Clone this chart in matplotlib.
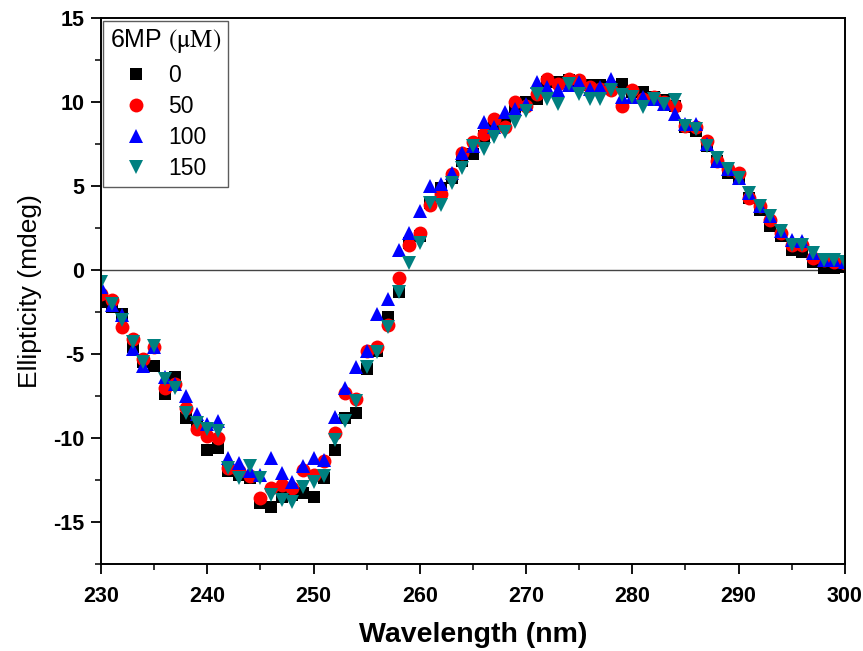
import matplotlib

matplotlib.use("Agg")
import matplotlib.pyplot as plt  # noqa: E402
from matplotlib.ticker import MultipleLocator  # noqa: E402

plt.rcParams["font.family"] = ["Liberation Sans", "DejaVu Sans"]
plt.rcParams["mathtext.fontset"] = "stix"
plt.rcParams["axes.unicode_minus"] = False

wavelength = list(range(230, 301))

cd_0 = [
    -1.9, -2.2, -2.6, -4.6, -5.5, -5.7, -7.4, -6.4, -8.8, -9.3,
    -10.7, -10.6, -12.0, -12.2, -12.4, -13.9, -14.1, -13.5, -13.4, -13.3,
    -13.5, -12.4, -10.7, -8.8, -8.5, -5.9, -4.8, -2.8, -1.3, 1.6,
    2.0, 4.0, 4.9, 5.5, 6.5, 6.9, 8.0, 8.6, 8.8, 9.7,
    10.0, 10.2, 11.2, 11.2, 11.3, 11.2, 11.0, 11.0, 10.9, 11.1,
    10.6, 10.6, 10.3, 10.1, 9.8, 8.5, 8.3, 7.4, 6.5, 5.8,
    5.5, 4.3, 3.6, 2.6, 2.0, 1.2, 1.1, 0.5, 0.1, 0.1, 0.2,
]
cd_50 = [
    -1.4, -1.8, -3.4, -4.1, -5.3, -4.6, -7.0, -6.8, -8.2, -9.5,
    -9.9, -10.0, -11.8, -12.0, -12.3, -13.6, -13.0, -12.8, -13.0, -11.9,
    -12.2, -11.4, -9.7, -7.3, -7.7, -4.8, -4.6, -3.3, -0.5, 1.5,
    2.2, 3.9, 4.5, 5.7, 7.0, 7.6, 8.1, 9.0, 8.5, 10.0,
    9.8, 10.5, 11.4, 11.1, 11.4, 11.3, 10.9, 10.8, 10.7, 9.8,
    10.7, 10.2, 10.3, 10.0, 9.8, 8.6, 8.5, 7.7, 6.5, 6.0,
    5.8, 4.3, 3.8, 3.0, 2.2, 1.5, 1.5, 0.7, 0.6, 0.5, 0.4,
]
cd_100 = [
    -1.0, -2.1, -2.7, -4.7, -5.7, -4.6, -6.4, -6.8, -7.5, -8.6,
    -9.2, -9.0, -11.2, -11.5, -12.0, -12.2, -11.2, -12.1, -12.6, -11.7,
    -11.2, -11.3, -8.75, -7.0, -5.8, -4.8, -2.6, -1.7, 1.2, 2.2,
    3.5, 5.0, 5.1, 5.8, 7.0, 7.4, 8.8, 8.5, 9.4, 9.6,
    9.9, 11.2, 10.9, 10.7, 11.0, 11.2, 10.8, 10.9, 11.4, 10.3,
    10.3, 10.3, 10.2, 9.9, 9.3, 8.7, 8.7, 7.5, 6.5, 6.0,
    5.5, 4.6, 3.8, 3.2, 2.3, 1.8, 1.7, 1.0, 0.6, 0.6, 0.5,
]
cd_150 = [
    -0.7, -2.0, -3.0, -4.3, -5.5, -4.5, -6.5, -7.0, -8.5, -9.1,
    -9.5, -9.6, -11.8, -12.4, -11.7, -12.4, -13.4, -13.7, -13.8, -12.9,
    -12.6, -12.3, -10.1, -9.0, -7.8, -5.8, -4.9, -3.4, -1.3, 0.4,
    1.6, 4.0, 3.9, 5.2, 6.1, 7.4, 7.2, 7.9, 8.2, 8.8,
    9.5, 10.5, 10.2, 9.9, 11.1, 10.5, 10.2, 10.2, 10.7, 10.4,
    10.3, 9.7, 10.2, 9.9, 10.1, 8.6, 8.4, 7.4, 6.7, 6.0,
    5.5, 4.6, 3.8, 3.2, 2.3, 1.5, 1.5, 1.0, 0.6, 0.6, 0.5,
]

series = [
    ("0", cd_0, "s", "#000000", 9),
    ("50", cd_50, "o", "#ff0000", 10),
    ("100", cd_100, "^", "#0000ff", 10.5),
    ("150", cd_150, "v", "#008080", 10.5),
]

fig = plt.figure(figsize=(8.63, 6.51), dpi=100)
ax = fig.add_axes([0.117, 0.134, 0.862, 0.838])

ax.axhline(0.0, color="#444444", linewidth=1.0, zorder=1)
for label, vals, marker, color, ms in series:
    ax.plot(wavelength, vals, linestyle="none", marker=marker, color=color,
            markersize=ms, markeredgewidth=0, label=label, zorder=2)

ax.set_xlim(230, 300)
ax.set_ylim(-17.5, 15)
ax.xaxis.set_major_locator(MultipleLocator(10))
ax.xaxis.set_minor_locator(MultipleLocator(5))
ax.yaxis.set_major_locator(MultipleLocator(5))
ax.yaxis.set_minor_locator(MultipleLocator(2.5))
ax.tick_params(which="major", direction="out", length=7, width=1.3,
               labelsize=15.5, pad=5)
ax.tick_params(axis="x", which="major", pad=9)
ax.tick_params(which="minor", direction="out", length=4, width=1.1)
for lbl in ax.get_xticklabels() + ax.get_yticklabels():
    lbl.set_fontweight("bold")
for sp in ax.spines.values():
    sp.set_linewidth(1.4)

ax.set_xlabel("Wavelength (nm)", fontsize=20.5, fontweight="bold", labelpad=11)
ax.set_ylabel("Ellipticity (mdeg)", fontsize=19, labelpad=8)

leg = ax.legend(title=r"6MP $\mathrm{(\mu M)}$", loc="upper left",
                fontsize=16.5, title_fontsize=18, frameon=True, fancybox=False,
                borderaxespad=0.1, borderpad=0.3, handletextpad=0.25,
                labelspacing=0.36, markerscale=1.0, alignment="left",
                handlelength=2.3)
leg.get_frame().set_edgecolor("#333333")
leg.get_frame().set_linewidth(1.0)

fig.savefig("out.png", dpi=100)
